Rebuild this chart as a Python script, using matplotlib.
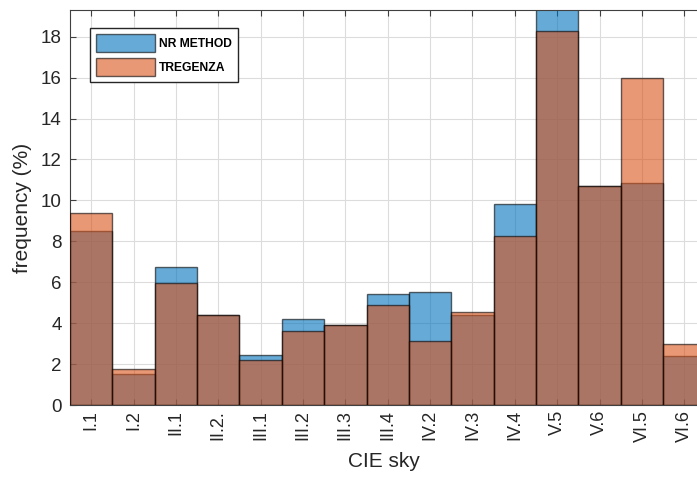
import matplotlib.pyplot as plt
from matplotlib import font_manager
import numpy as np

plt.rcParams['font.family'] = ['Liberation Sans', 'DejaVu Sans']

categories = ["I.1", "I.2", "II.1", "II.2.", "III.1", "III.2", "III.3", "III.4",
              "IV.2", "IV.3", "IV.4", "V.5", "V.6", "VI.5", "VI.6"]
nr_method = [8.52, 1.51, 6.72, 4.42, 2.42, 4.18, 3.90, 5.41,
             5.50, 4.42, 9.80, 20.5, 10.68, 10.83, 2.41]
tregenza = [9.37, 1.74, 5.97, 4.42, 2.18, 3.61, 3.90, 4.88,
            3.14, 4.55, 8.24, 18.28, 10.72, 15.98, 2.98]


def legend_font():
    names = {f.name for f in font_manager.fontManager.ttflist}
    if "Liberation Sans Narrow" in names:
        return {"family": "Liberation Sans Narrow", "weight": "bold", "size": 10.5}
    return {"weight": "bold", "size": 8.7}


def plot_graph():
    fig = plt.figure(figsize=(6.97, 4.78), dpi=100)
    ax = fig.add_axes([0.1004, 0.1527, 0.8996, 0.8263])
    x = np.arange(1, len(categories) + 1)

    ax.bar(x, nr_method, width=1.0, color=(0, 0.447, 0.741), alpha=0.6,
           edgecolor="black", linewidth=1.0, label="NR METHOD", zorder=2)
    ax.bar(x, tregenza, width=1.0, color=(0.85, 0.325, 0.098), alpha=0.6,
           edgecolor="black", linewidth=1.0, label="TREGENZA", zorder=3)

    ax.set_xlim(0.5, 15.3)
    ax.set_ylim(0, 19.3)
    ax.set_xticks(x)
    ax.set_xticklabels(categories, rotation=90, fontsize=13, color="#262626")
    ax.set_yticks(np.arange(0, 19, 2))
    ax.tick_params(axis="y", labelsize=13.5, labelcolor="#262626", pad=6)
    ax.tick_params(direction="in", length=4, color="#404040", top=True)
    ax.grid(True, color="#dcdcdc", linewidth=0.8, zorder=0)
    ax.set_axisbelow(True)
    for s in ["left", "bottom", "top"]:
        ax.spines[s].set_color("#404040")
    ax.spines["right"].set_visible(False)

    ax.set_xlabel("CIE sky", fontsize=15, color="#262626", labelpad=7)
    ax.set_ylabel("frequency (%)", fontsize=15, color="#262626", labelpad=6)

    fp = legend_font()
    px = fp["size"] * 100 / 72
    leg = ax.legend(loc="upper left", bbox_to_anchor=(0.032, 0.955),
                    borderaxespad=0, prop=fp, fancybox=False,
                    framealpha=1, edgecolor="#262626",
                    handlelength=59 / px, handleheight=23 / px,
                    handletextpad=4 / px, borderpad=6 / px,
                    labelspacing=6 / px)
    for h in leg.legend_handles:
        h.set_alpha(0.6)

    fig.savefig("out.png", dpi=100)


if __name__ == '__main__':
    plot_graph()
